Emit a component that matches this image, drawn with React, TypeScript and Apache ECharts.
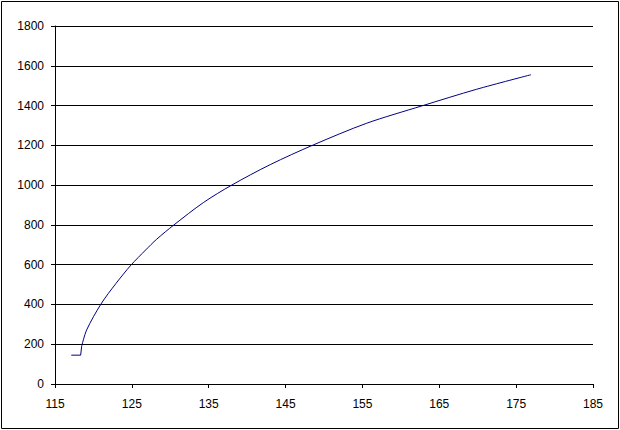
import React, { useEffect, useRef } from "react";
import * as echarts from "echarts";

// Tick values
const xTicks = [115, 125, 135, 145, 155, 165, 175, 185];
const yTicks = [0, 200, 400, 600, 800, 1000, 1200, 1400, 1600, 1800];

// Initial flat step segment (x, y)
const stepX = [117.12, 118.34, 118.47];
const stepY = [145, 145, 190];

// Main curve (x, y)
const curveX = [118.47, 119.12, 120.98, 122.94, 124.89, 126.8, 128.23, 130.48, 134.3, 137.99, 143.0, 148.61, 155.55, 162.71, 169.87, 176.93];
const curveY = [190, 272, 402, 506, 598, 674, 728, 800, 912, 1000, 1103, 1202, 1311, 1398, 1482, 1555];

const X_MIN = xTicks[0];
const X_MAX = xTicks[xTicks.length - 1];
const FONT = "'Liberation Sans', Arial, sans-serif";

export default function App() {
  const ref = useRef<HTMLDivElement>(null);

  useEffect(() => {
    if (!ref.current) return;
    const chart = echarts.init(ref.current, null, { renderer: "svg" });
    const toOffset = (xs: number[], ys: number[]) => xs.map((x, i) => [x - X_MIN, ys[i]]);

    chart.setOption({
      animation: false,
      backgroundColor: "#ffffff",
      textStyle: { fontFamily: FONT },
      grid: { left: 55, right: 27, top: 26, bottom: 46, containLabel: false },
      xAxis: {
        type: "value",
        min: 0,
        max: X_MAX - X_MIN,
        interval: 10,
        axisLine: { show: true, onZero: false, lineStyle: { color: "#000", width: 1 } },
        axisTick: { show: true, inside: false, length: 4, lineStyle: { color: "#000" } },
        axisLabel: {
          color: "#000",
          fontSize: 12,
          fontFamily: FONT,
          margin: 14,
          formatter: (v: number) => String(v + X_MIN),
        },
        splitLine: { show: false },
      },
      yAxis: {
        type: "value",
        min: yTicks[0],
        max: yTicks[yTicks.length - 1],
        interval: 200,
        axisLine: { show: true, lineStyle: { color: "#000", width: 1 } },
        axisTick: { show: true, inside: false, length: 4, lineStyle: { color: "#000" } },
        axisLabel: {
          color: "#000",
          fontSize: 12,
          fontFamily: FONT,
          margin: 11,
          formatter: (v: number) => String(v),
        },
        splitLine: { show: true, lineStyle: { color: "#000", width: 1, type: "solid" } },
      },
      series: [
        {
          type: "line",
          data: toOffset(stepX, stepY),
          showSymbol: false,
          symbol: "none",
          smooth: false,
          lineStyle: { color: "#000080", width: 1 },
          itemStyle: { color: "#000080" },
        },
        {
          type: "line",
          data: toOffset(curveX, curveY),
          showSymbol: false,
          symbol: "none",
          smooth: 0.3,
          lineStyle: { color: "#000080", width: 1 },
          itemStyle: { color: "#000080" },
        },
      ],
      graphic: [
        {
          type: "rect",
          shape: { x: 1.5, y: 1.5, width: 617, height: 427 },
          style: { fill: "none", stroke: "#000", lineWidth: 1 },
          silent: true,
        },
      ],
    });
    return () => chart.dispose();
  }, []);

  return (
    <div
      ref={ref}
      style={{ position: "absolute", left: 0, top: 0, width: 620, height: 430 }}
    />
  );
}
